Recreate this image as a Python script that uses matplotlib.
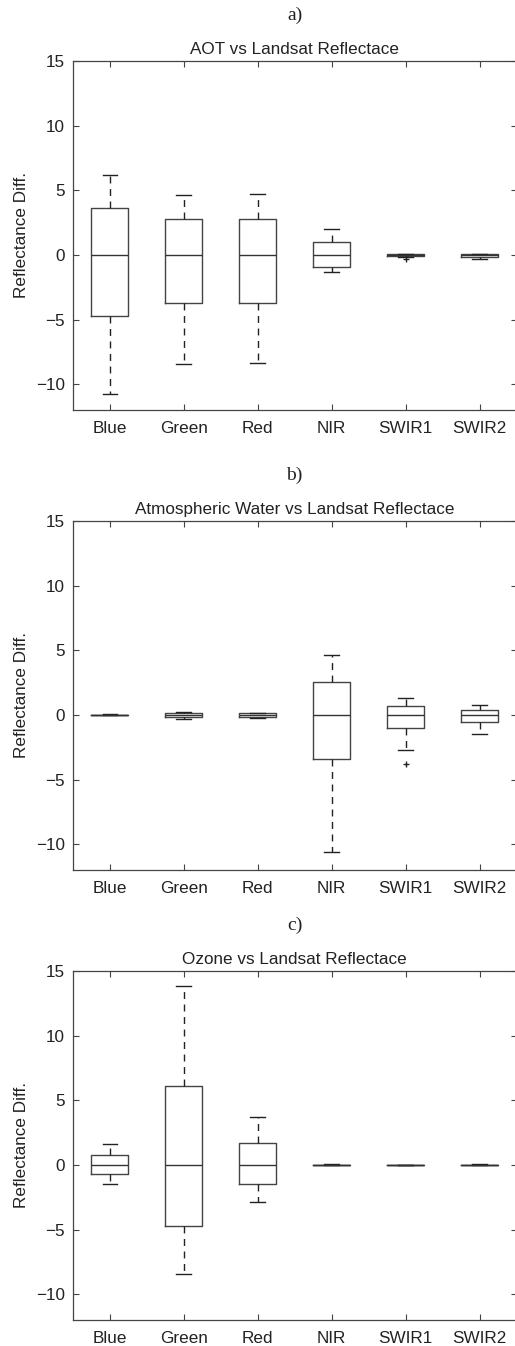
import matplotlib
matplotlib.use("Agg")
import matplotlib.pyplot as plt

plt.rcParams['font.family'] = ['Liberation Sans', 'DejaVu Sans']

bands = ["Blue", "Green", "Red", "NIR", "SWIR1", "SWIR2"]

# a) AOT
aot_lo  = [-10.8, -8.45, -8.33, -1.29, -0.13, -0.31]
aot_q1  = [-4.74, -3.74, -3.69, -0.90, -0.05, -0.13]
aot_med = [0.0, 0.0, 0.0, 0.0, 0.0, 0.0]
aot_q3  = [3.61, 2.76, 2.78, 0.98, 0.04, 0.08]
aot_hi  = [6.16, 4.64, 4.69, 2.01, 0.06, 0.10]
aot_fliers = [[], [], [], [], [-0.33], []]

# b) Atmospheric water
wv_lo  = [-0.04, -0.33, -0.23, -10.57, -2.73, -1.49]
wv_q1  = [-0.02, -0.18, -0.13, -3.38, -0.98, -0.54]
wv_med = [0.0, 0.0, 0.0, 0.0, 0.0, 0.0]
wv_q3  = [0.02, 0.18, 0.13, 2.53, 0.72, 0.41]
wv_hi  = [0.04, 0.22, 0.18, 4.64, 1.29, 0.77]
wv_fliers = [[], [], [], [], [-3.79], []]

# c) Ozone
oz_lo  = [-1.49, -8.43, -2.86, -0.04, -0.03, -0.04]
oz_q1  = [-0.72, -4.72, -1.49, -0.02, -0.02, -0.02]
oz_med = [0.0, 0.0, 0.0, 0.0, 0.0, 0.0]
oz_q3  = [0.80, 6.09, 1.73, 0.02, 0.02, 0.02]
oz_hi  = [1.60, 13.87, 3.71, 0.04, 0.03, 0.04]
oz_fliers = [[], [], [], [], [], []]

panels = [
    ("a)", "AOT vs Landsat Reflectace", aot_lo, aot_q1, aot_med, aot_q3, aot_hi, aot_fliers),
    ("b)", "Atmospheric Water vs Landsat Reflectace", wv_lo, wv_q1, wv_med, wv_q3, wv_hi, wv_fliers),
    ("c)", "Ozone vs Landsat Reflectace", oz_lo, oz_q1, oz_med, oz_q3, oz_hi, oz_fliers),
]

W, H = 515, 1346
fig = plt.figure(figsize=(W / 100, H / 100), dpi=100)

tops = [61, 521, 971]
ax_h = 349
left = 73
right = 516.5
txt = "#222222"
fs = 12.3

for (letter, title, lo, q1, med, q3, hi, fl), top in zip(panels, tops):
    ax = fig.add_axes([left / W, 1 - (top + ax_h) / H, (right - left) / W, ax_h / H])
    stats = []
    for i in range(len(bands)):
        stats.append(dict(whislo=lo[i], q1=q1[i], med=med[i], q3=q3[i],
                          whishi=hi[i], fliers=fl[i], label=bands[i]))
    ax.bxp(stats, positions=range(1, 7), widths=0.5, capwidths=0.2,
           boxprops=dict(color="#444444", linewidth=1.0),
           medianprops=dict(color="#333333", linewidth=1.0),
           whiskerprops=dict(color="#222222", linewidth=1.0, linestyle=(0, (5, 4))),
           capprops=dict(color="#222222", linewidth=1.0),
           flierprops=dict(marker="+", markeredgecolor="#222222", markersize=5,
                           markeredgewidth=1.0))
    ax.set_xlim(0.5, 6.5)
    ax.set_ylim(-12, 15)
    ax.set_yticks([-10, -5, 0, 5, 10, 15])
    ax.set_xticks(range(1, 7))
    ax.set_xticklabels(bands)
    ax.tick_params(direction="in", length=4, width=0.8, color="#444444",
                   labelsize=fs, labelcolor=txt, pad=6,
                   top=True, right=True)
    ax.tick_params(axis="x", pad=8)
    for s in ax.spines.values():
        s.set_color("#444444")
        s.set_linewidth(0.9)
    ax.set_ylabel("Reflectance Diff.", fontsize=fs, color=txt)
    ax.yaxis.set_label_coords(-0.1, 0.5)
    ax.set_title(title, fontsize=fs, color=txt, pad=5)
    fig.text((left + right) / 2 / W, 1 - (top - 46) / H, letter,
             family=["Liberation Serif", "DejaVu Serif"], fontsize=14,
             ha="center", va="center", color=txt)

fig.savefig("out.png", dpi=100)
